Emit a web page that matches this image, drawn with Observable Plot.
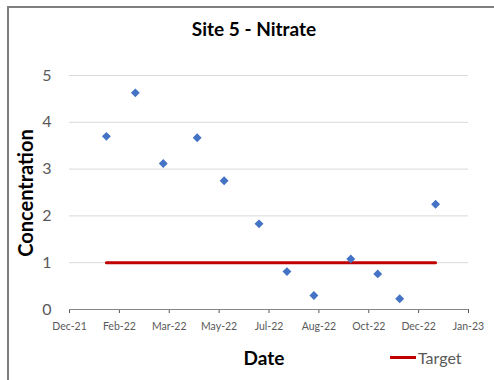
<!DOCTYPE html>
<html>
<head>
<meta charset="utf-8">
<script src="https://cdn.jsdelivr.net/npm/d3@7"></script>
<script src="https://cdn.jsdelivr.net/npm/@observablehq/plot@0.6"></script>
<style>
  html, body { margin: 0; padding: 0; background: #fff; }
  #wrap { position: relative; width: 494px; height: 380px; overflow: hidden; font-family: Lato, "Noto Sans", sans-serif; }
  #frame { position: absolute; left: 7px; top: 6px; width: 600px; height: 600px; border-left: 2px solid #7f7f7f; border-top: 2px solid #7f7f7f; box-sizing: border-box; }
  #chart { position: absolute; left: 0; top: 0; }
  .lbl { position: absolute; color: #000; font-weight: bold; white-space: nowrap; }
  #title { left: 0; width: 508px; top: 17px; text-align: center; font-size: 19px; }
  #ylab { left: 25px; top: 193px; font-size: 20px; transform: translate(-50%, -50%) rotate(-90deg); }
  #xlab { left: 264px; top: 357px; font-size: 19px; transform: translate(-50%, -50%); }
  #legend { position: absolute; left: 390px; top: 348px; display: flex; align-items: center; font-size: 16px; color: #595959; }
  #legend .sw { width: 26px; height: 3px; background: #c00000; margin-right: 2px; }
</style>
</head>
<body>
<div id="wrap">
  <div id="frame"></div>
  <div id="chart"></div>
  <div id="title" class="lbl">Site 5 - Nitrate</div>
  <div id="ylab" class="lbl">Concentration</div>
  <div id="xlab" class="lbl">Date</div>
  <div id="legend"><div class="sw"></div><span>Target</span></div>
</div>
<script>
// Sample dates and nitrate concentrations
const dates = ["2022-01-22","2022-02-20","2022-03-20","2022-04-23","2022-05-20","2022-06-24",
               "2022-07-22","2022-08-18","2022-09-24","2022-10-21","2022-11-12","2022-12-18"];
const values = [3.70, 4.63, 3.12, 3.67, 2.75, 1.83, 0.81, 0.30, 1.08, 0.76, 0.23, 2.25];
const targetValue = 1;
const yTicks = [0, 1, 2, 3, 4, 5];
const xStart = "2021-12-16";
const xEnd = "2023-01-20";
const xStepDays = 50;

const parse = d3.utcParse("%Y-%m-%d");
const samples = dates.map((d, i) => ({date: parse(d), value: values[i]}));
const target = [
  {date: samples[0].date, value: targetValue},
  {date: samples[samples.length - 1].date, value: targetValue}
];
const x0 = parse(xStart), x1 = parse(xEnd);
const xTicks = d3.utcDay.every(1).range(x0, d3.utcDay.offset(x1, 1)).filter((d, i) => i % xStepDays === 0);

const chart = Plot.plot({
  width: 494,
  height: 380,
  marginLeft: 69,
  marginRight: 26,
  marginTop: 75,
  marginBottom: 71,
  style: {fontFamily: "Lato, 'Noto Sans', sans-serif", color: "#595959", background: "transparent"},
  x: {type: "utc", domain: [x0, x1]},
  y: {domain: [0, 5]},
  marks: [
    Plot.ruleY(yTicks.filter(v => v > 0), {stroke: "#d9d9d9", strokeWidth: 1}),
    Plot.axisY({ticks: yTicks, tickFormat: d3.format("d"), tickSize: 0, tickPadding: 18, fontSize: 16, label: null, fill: "#595959"}),
    Plot.axisX({ticks: xTicks, tickFormat: d3.utcFormat("%b-%y"), tickSize: 4, tickPadding: 9, fontSize: 10.5, label: null, stroke: "#595959", fill: "#595959"}),
    Plot.ruleY([0], {stroke: "#868686", strokeWidth: 1}),
    Plot.line(target, {x: "date", y: "value", stroke: "#c00000", strokeWidth: 3}),
    Plot.dot(samples, {x: "date", y: "value", symbol: "diamond2", r: 4, fill: "#4472c4", stroke: "none"})
  ]
});
document.getElementById("chart").appendChild(chart);
</script>
</body>
</html>
